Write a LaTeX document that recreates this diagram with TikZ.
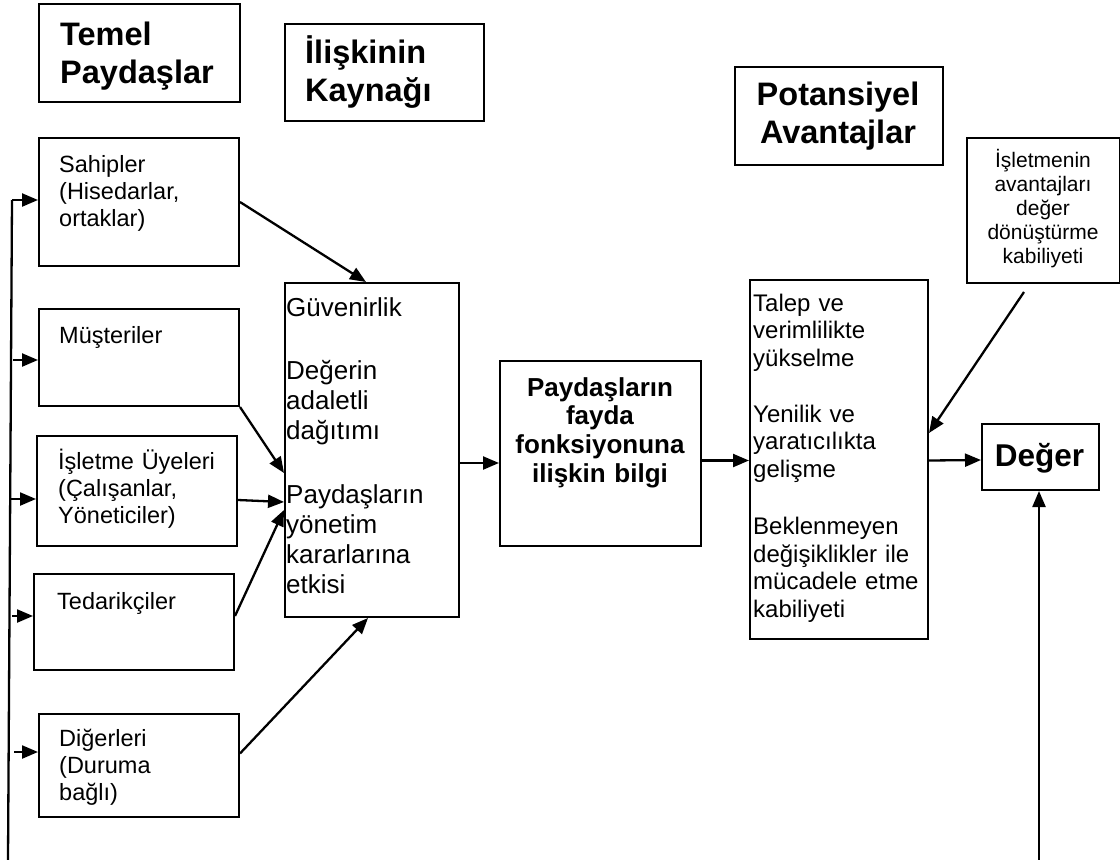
\documentclass[tikz,border=0pt]{standalone}
\usepackage{fontspec}
\setmainfont{Liberation Sans}
\usetikzlibrary{arrows.meta,calc}

\begin{document}
\begin{tikzpicture}[x=1pt,y=-1pt,
  box/.style={draw, line width=2pt, inner sep=0pt, anchor=north west},
  conn/.style={line width=2.3pt, -{Triangle[length=16pt,width=13pt]}},
  plain/.style={line width=2.3pt},
  txtl/.style={inner sep=0pt, anchor=base west, align=left, text width=#1},
  txtl/.default=180pt,
  txtc/.style={inner sep=0pt, anchor=base, align=center, text width=#1},
  txtc/.default=200pt,
  headf/.style={font=\fontsize{32.5}{38}\selectfont\bfseries},
  smallf/.style={font=\fontsize{23.5}{27}\selectfont},
  midf/.style={font=\fontsize{26}{30}\selectfont},
  talf/.style={font=\fontsize{24}{27.5}\selectfont},
  infof/.style={font=\fontsize{26}{28.7}\selectfont\bfseries},
  islf/.style={font=\fontsize{21}{24.2}\selectfont},
  degf/.style={font=\fontsize{31.5}{36}\selectfont\bfseries}]

\useasboundingbox (0,0) rectangle (1120,860);

% column headings
\node[box, minimum width=201pt, minimum height=98pt] (temel) at (38,3) {};
\node[txtl, headf] (temelT) at (60,45) {Temel\\Paydaşlar};
\node[box, minimum width=199pt, minimum height=97pt] (iliski) at (284,23) {};
\node[txtl, headf] (iliskiT) at (305,63) {İlişkinin\\Kaynağı};
\node[box, minimum width=208pt, minimum height=98pt] (potans) at (734,66) {};
\node[txtc, headf] (potansT) at (838,105) {Potansiyel\\Avantajlar};

% stakeholders
\node[box, minimum width=200pt, minimum height=128pt] (sah) at (38,137) {};
\node[txtl, smallf] (sahT) at (59,172) {Sahipler\\(Hisedarlar,\\ortaklar)};
\node[box, minimum width=200pt, minimum height=97pt] (mus) at (38,308) {};
\node[txtl, smallf] (musT) at (59,343) {Müşteriler};
\node[box, minimum width=200pt, minimum height=110pt] (isu) at (36,435) {};
\node[txtl, smallf] (isuT) at (58,469) {İşletme Üyeleri\\(Çalışanlar,\\Yöneticiler)};
\node[box, minimum width=200pt, minimum height=96pt] (ted) at (33,573) {};
\node[txtl, smallf] (tedT) at (57,609) {Tedarikçiler};
\node[box, minimum width=200pt, minimum height=103pt] (dig) at (38,713) {};
\node[txtl, smallf] (digT) at (59,746) {Diğerleri\\(Duruma\\bağlı)};

% source of the relationship
\node[box, minimum width=174pt, minimum height=334pt] (mid) at (284,282) {};
\node[txtl=170pt, midf] (midT) at (286,316)
  {Güvenirlik\\[33pt]Değerin\\adaletli\\dağıtımı\\[34pt]Paydaşların\\yönetim\\kararlarına\\etkisi};

% information box
\node[box, minimum width=201pt, minimum height=185pt] (info) at (499,360) {};
\node[txtc, infof] (infoT) at (600,396) {Paydaşların\\fayda\\fonksiyonuna\\ilişkin bilgi};

% potential advantages
\node[box, minimum width=178pt, minimum height=359pt] (tal) at (749,279) {};
\node[txtl=172pt, talf] (talT) at (753,311)
  {Talep ve\\verimlilikte\\yükselme\\[28.5pt]Yenilik ve\\yaratıcılıkta\\gelişme\\[30pt]Beklenmeyen\\değişiklikler ile\\mücadele etme\\kabiliyeti};

\node[box, minimum width=153pt, minimum height=145pt] (isl) at (966,137) {};
\node[txtc=150pt, islf] (islT) at (1043,167) {İşletmenin\\avantajları\\değer\\dönüştürme\\kabiliyeti};

\node[box, minimum width=117pt, minimum height=66pt] (deg) at (981,423) {};
\node[txtc=115pt, degf] (degT) at (1039.5,466) {Değer};

% feedback bus on the left
\coordinate (busTop) at (12,200);
\coordinate (busBot) at (8,860);
\coordinate (b2) at (13,360);
\coordinate (b3) at (9,499);
\coordinate (b4) at (12,616);
\coordinate (b5) at (14,752);
\draw[plain] (busBot) -- (busTop);
\draw[conn] (busTop) -- (busTop -| sah.west);
\draw[conn] (b2) -- (b2 -| mus.west);
\draw[conn] (b3) -- (b3 -| isu.west);
\draw[conn] (b4) -- (b4 -| ted.west);
\draw[conn] (b5) -- (b5 -| dig.west);

% stakeholders into the source box
\draw[conn] (sah.east) -- ($(mid.north)+(-6,0)$);
\draw[conn] (mus.south east) -- ($(mid.north west)+(0,191)$);
\draw[conn] ($(isu.east)+(0,9)$) -- ($(mid.north west)+(0,220)$);
\draw[conn] ($(ted.east)+(0,-6)$) -- ($(mid.north west)+(0,228)$);
\draw[conn] ($(dig.east)+(0,-12)$) -- ($(mid.south)+(-4,0)$);

% main flow
\draw[conn] ($(mid.east)+(0,13)$) -- ($(info.west)+(0,9.5)$);
\draw[conn] ($(info.east)+(0,7)$) -- ($(tal.west)+(0,1)$);
\draw[conn] ($(tal.east)+(0,1)$) -- ($(deg.west)+(0,3)$);
\draw[conn] ($(isl.south)+(-19.5,8)$) -- ($(tal.north east)+(0,154)$);

% feedback line into value
\coordinate (rBot) at (1039,860);
\draw[conn] (rBot) -- (rBot |- deg.south);
\end{tikzpicture}
\end{document}
